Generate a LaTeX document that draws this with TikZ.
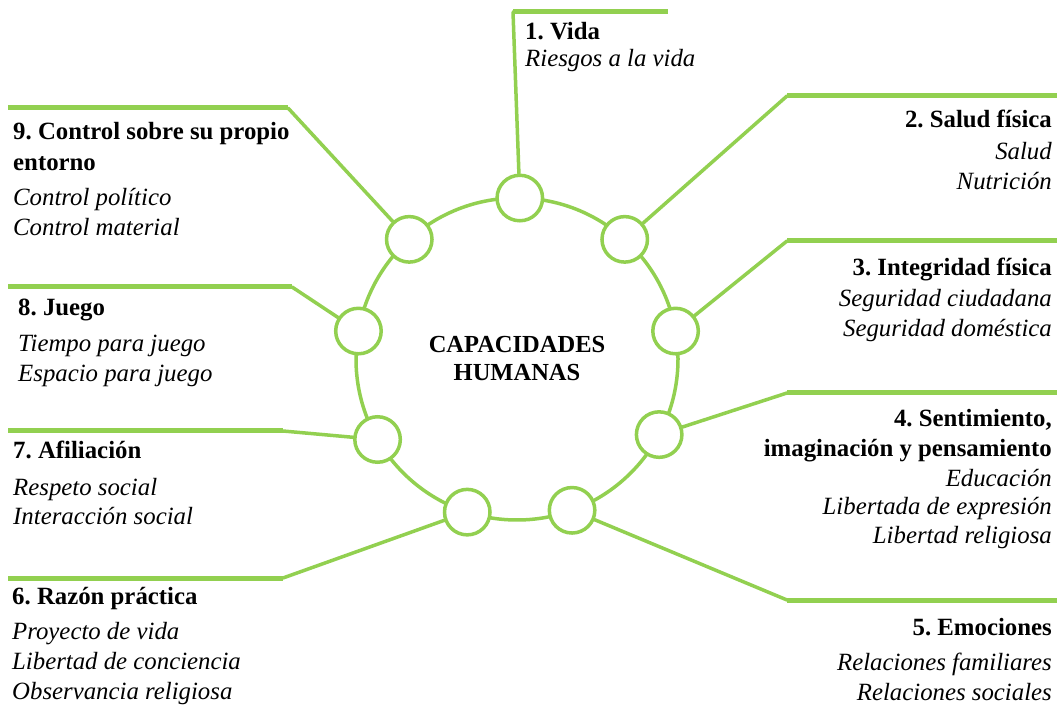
\documentclass[tikz,border=0pt]{standalone}
\usepackage{fontspec}
\setmainfont{Liberation Serif}
\usetikzlibrary{calc}
\definecolor{leafgreen}{RGB}{146,208,80}
\frenchspacing

\begin{document}
\begin{tikzpicture}
	[x=1pt, y=1pt, inner sep=0pt,
	ring/.style	= {circle, draw=leafgreen, line width=3.5pt, fill=white, minimum size=45.5pt},
	leg/.style	= {draw=leafgreen, line width=3.5pt, line cap=round},
	shelf/.style	= {draw=leafgreen, line width=5pt},
	lefttext/.style	= {anchor=base west, align=left, font=\fontsize{24.8}{30}\selectfont},
	righttext/.style	= {anchor=base east, align=right, font=\fontsize{24.8}{30}\selectfont},
	hub/.style	= {align=center, font=\fontsize{24.5}{28}\selectfont\bfseries}]

	\useasboundingbox (0,0) rectangle (1057,707);

	\coordinate (mid) at (517,348);
	\draw [leg] (mid) circle (161pt);

	\foreach \ang [count=\i] in {89,48,10,-28,-70,-108,-150,170,132}
		\node at ($(mid)+(\ang:161pt)$)	[ring]	(c\i)	{};

	\node at (mid)	[hub]	(cap)	{CAPACIDADES\\HUMANAS};

	\coordinate (k1) at (513,695);	\coordinate (e1) at (668,695);
	\coordinate (k2) at (787,611);	\coordinate (e2) at (1057,611);
	\coordinate (k3) at (787,466);	\coordinate (e3) at (1057,466);
	\coordinate (k4) at (787,314);	\coordinate (e4) at (1057,314);
	\coordinate (k5) at (787,107);	\coordinate (e5) at (1057,107);
	\coordinate (k6) at (283,129);	\coordinate (e6) at (8,129);
	\coordinate (k7) at (283,276);	\coordinate (e7) at (8,276);
	\coordinate (k8) at (292,420);	\coordinate (e8) at (8,420);
	\coordinate (k9) at (288,599);	\coordinate (e9) at (8,599);

	\foreach \i in {1,...,9} {
		\draw [leg]	(c\i) -- (k\i);
		\draw [shelf]	(k\i) -- (e\i);
	}

	% base anchor sits on the last line
	\node at (525,640)	[lefttext]	(t1)	{\textbf{1. Vida}\\[-3pt]\textit{Riesgos a la vida}};
	\node at (1052,517)	[righttext]	(t2)	{\textbf{2. Salud física}\\[2pt]\textit{Salud }\\\textit{Nutrición}};
	\node at (1052,370)	[righttext]	(t3)	{\textbf{3. Integridad física}\\[1pt]\textit{Seguridad ciudadana}\\\textit{Seguridad doméstica}};
	\node at (1052,164)	[righttext]	(t4)	{\textbf{4. Sentimiento,}\\\textbf{imaginación y pensamiento}\\\textit{Educación}\\[-2pt]\textit{Libertada de expresión}\\[-2pt]\textit{Libertad religiosa}};
	\node at (1052,7)	[righttext]	(t5)	{\textbf{5. Emociones}\\[5pt]\textit{Relaciones familiares}\\\textit{Relaciones sociales}};
	\node at (12,8)	[lefttext]	(t6)	{\textbf{6. Razón práctica}\\[5pt]\textit{Proyecto de vida}\\\textit{Libertad de conciencia}\\\textit{Observancia religiosa}};
	\node at (13,182)	[lefttext]	(t7)	{\textbf{7. Afiliación}\\[7pt]\textit{Respeto social}\\[-1pt]\textit{Interacción social}};
	\node at (18,325)	[lefttext]	(t8)	{\textbf{8. Juego}\\[6pt]\textit{Tiempo para juego}\\\textit{Espacio para juego}};
	\node at (13,471)	[lefttext]	(t9)	{\textbf{9. Control sobre su propio}\\[1pt]\textbf{entorno}\\[5pt]\textit{Control político}\\\textit{Control material}};
\end{tikzpicture}
\end{document}
